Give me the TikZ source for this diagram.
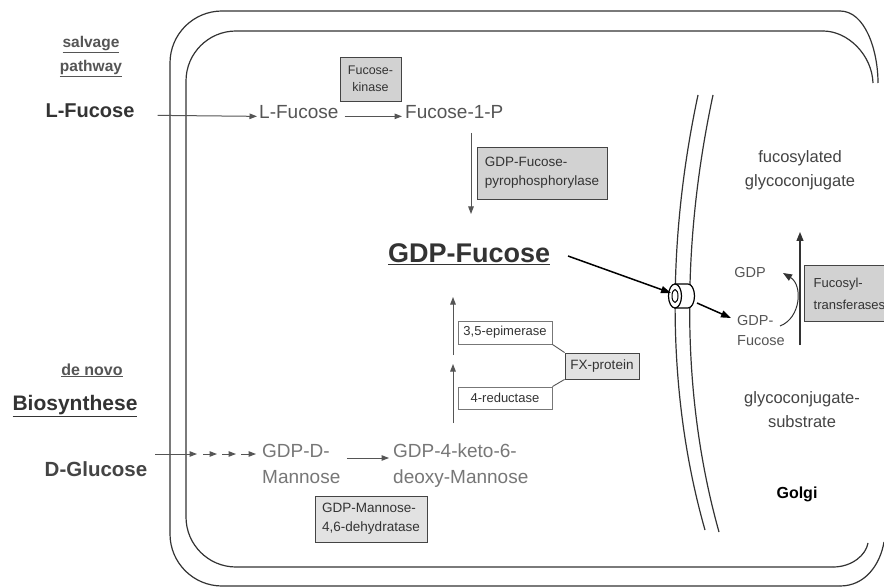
\documentclass[tikz,border=0pt]{standalone}
\usepackage{fontspec}
\setmainfont{Liberation Sans}
\usetikzlibrary{arrows.meta}
\definecolor{cA}{HTML}{333333}
\definecolor{cB}{HTML}{555555}
\definecolor{cC}{HTML}{777777}
\definecolor{cD}{HTML}{444444}
\definecolor{fillA}{HTML}{D2D2D2}
\definecolor{fillB}{HTML}{E2E2E2}
\begin{document}
\begin{tikzpicture}[x=1pt,y=-1pt,
  txt/.style={inner sep=0pt},
  headb/.style={txt,font=\fontsize{20}{24}\selectfont\bfseries,text=cA},
  heads/.style={txt,font=\fontsize{15.5}{18}\selectfont\bfseries,text=cB},
  mid/.style={txt,font=\fontsize{19}{23}\selectfont,text=cB},
  light/.style={txt,font=\fontsize{19}{23}\selectfont,text=cC},
  golgi/.style={txt,font=\fontsize{16.5}{20}\selectfont,text=cD},
  gsmall/.style={txt,font=\fontsize{14.5}{18}\selectfont,text=cB},
  enz/.style={draw=cD,line width=0.9pt,fill=fillA,inner sep=0pt,align=left,
     font=\fontsize{13.5}{19}\selectfont,text=cA},
  enzw/.style={enz,fill=white,draw=cC},
  mem/.style={draw=cA,line width=1.2pt},
  garrow/.style={draw=cB,line width=1pt,-{Triangle[length=7.5pt,width=5.5pt]}},
  barrow/.style={draw=black,line width=1.5pt,-{Triangle[length=10pt,width=7pt]}},
  tiparrow/.style={draw=cA,line width=1.1pt,-{Triangle[length=9pt,width=7pt]}}
]
\useasboundingbox (0,0) rectangle (884,588);
\clip (0,0) rectangle (884,588);
\fill[white] (0,0) rectangle (884,588);

% cell membranes
\draw[mem,rounded corners=52] (840,11) -- (170,11) -- (170,586) -- (840,586);
\draw[mem] (840,11) .. controls (865,11) and (878,50) .. (878,83);
\draw[mem] (840,586) .. controls (865,586) and (880,565) .. (884,542);
\draw[mem,rounded corners=50] (823,31) -- (186,31) -- (186,567) -- (833,567);
\draw[mem] (823,31) .. controls (848,31) and (872,55) .. (873,83);
\draw[mem] (833,567) .. controls (852,567) and (866,555) .. (868,543);

% golgi membrane
\draw[mem] (698,95) .. controls (665,250) and (668,400) .. (705,530);
\draw[mem] (713,95) .. controls (680,250) and (682,400) .. (719,532);

% left labels
\node[heads,anchor=base] (salv) at (91,48) {\underline{salvage}};
\node[heads,anchor=base] (path) at (91,72) {\underline{pathway}};
\node[headb,anchor=base] (lfo) at (90,118) {L-Fucose};
\node[heads,anchor=base,font=\fontsize{16}{19}\selectfont\bfseries] (denovo) at (92,375) {\underline{de novo}};
\node[headb,anchor=base,font=\fontsize{21}{25}\selectfont\bfseries] (bios) at (75,410) {\underline{Biosynthese}};
\node[headb,anchor=base,text=cD,font=\fontsize{20.5}{25}\selectfont\bfseries] (dglc) at (96,476) {D-Glucose};

% salvage pathway
\node[mid,anchor=base west] (lfi) at (259,119) {L-Fucose};
\node[mid,anchor=base west] (fp) at (405,119) {Fucose-1-P};
\node[enz,minimum width=61pt,minimum height=44pt,align=center,font=\fontsize{12.5}{17}\selectfont] (kin) at (370.5,79) {Fucose-\\kinase};
\node[enz,minimum width=130pt,minimum height=52pt] (pyro) at (542,173) {GDP-Fucose-\\pyrophosphorylase};
\node[txt,anchor=base west,font=\fontsize{27}{32}\selectfont\bfseries,text=cA] (gdpf) at (388,263) {\underline{GDP-Fucose}};

\draw[garrow] ([xshift=23pt]lfo.mid east) -- ([xshift=-2pt]lfi.mid west);
\draw[garrow] ([xshift=6pt]lfi.mid east) -- ([xshift=-3pt]fp.mid west);
\coordinate (v1s) at (471,133);
\coordinate (v1e) at (471,214);
\draw[garrow] (v1s) -- (v1e);

% de novo pathway
\node[light,anchor=base west] (gdm1) at (262,457) {GDP-D-};
\node[light,anchor=base west] (gdm2) at (262,483) {Mannose};
\node[light,anchor=base west] (gkd1) at (393,457) {GDP-4-keto-6-};
\node[light,anchor=base west] (gkd2) at (393,483) {deoxy-Mannose};
\node[enz,fill=fillB,minimum width=112pt,minimum height=46pt] (dehyd) at (371,519) {GDP-Mannose-\\4,6-dehydratase};

\coordinate (dg1) at (155,454);
\coordinate (dg2) at (197,454);
\coordinate (dg3) at (203,454);
\coordinate (dg4) at (217,454);
\coordinate (dg5) at (222,454);
\coordinate (dg6) at (236,454);
\coordinate (dg7) at (241,454);
\coordinate (dg8) at (256,454);
\draw[garrow] (dg1) -- (dg2);
\draw[garrow] (dg3) -- (dg4);
\draw[garrow] (dg5) -- (dg6);
\draw[garrow] (dg7) -- (dg8);
\draw[garrow] (gdm1.south east |- 0,458) ++(17pt,0) -- ([xshift=-4pt]gkd1.west |- 0,458);

\node[enzw,minimum width=94pt,minimum height=23pt,align=center,font=\fontsize{13}{16}\selectfont] (epi) at (505,332.5) {3,5-epimerase};
\node[enzw,minimum width=94pt,minimum height=22pt,align=center,font=\fontsize{13}{16}\selectfont] (red) at (505,398) {4-reductase};
\node[enz,fill=fillB,minimum width=74pt,minimum height=26pt,align=center,font=\fontsize{13.5}{16}\selectfont] (fx) at (602,366) {FX-protein};
\draw[draw=cB,line width=0.9pt] (epi.south east) -- (fx.north west);
\draw[draw=cB,line width=0.9pt] (red.north east) -- (fx.south west);

\coordinate (v2s) at (453,423);
\coordinate (v2e) at (453,364);
\coordinate (v3s) at (453,355);
\coordinate (v3e) at (453,297);
\draw[garrow] (v2s) -- (v2e);
\draw[garrow] (v3s) -- (v3e);

% channel
\draw[draw=black,line width=1.2pt,fill=white] (675,284) -- (688,284)
   arc[start angle=-90,end angle=90,x radius=6.5,y radius=12] -- (675,308) -- cycle;
\draw[draw=black,line width=1.2pt,fill=white] (675,296) ellipse [x radius=6.5,y radius=12];
\draw[draw=black,line width=1pt,fill=white] (675,296) ellipse [x radius=3,y radius=6.5];
\coordinate (gfout) at (568,256);
\coordinate (chin) at (671,293);
\coordinate (chout) at (697,303);
\coordinate (gfin) at (731,318);
\draw[barrow] (gfout) -- (chin);
\draw[barrow] (chout) -- (gfin);

% golgi side
\node[golgi,anchor=base] (fuc1) at (800,163) {fucosylated};
\node[golgi,anchor=base] (fuc2) at (800,187) {glycoconjugate};
\node[gsmall,anchor=base] (gdp) at (750,277) {GDP};
\node[gsmall,anchor=base west] (gf1) at (737,325) {GDP-};
\node[gsmall,anchor=base west] (gf2) at (737,345) {Fucose};
\node[enz,fill=fillA,anchor=north west,inner xsep=5pt,minimum width=90pt,minimum height=56pt,font=\fontsize{13}{22}\selectfont] (fts) at (804,265) {Fucosyl-\\transferases};
\node[golgi,anchor=base] (sub1) at (802,403) {glycoconjugate-};
\node[golgi,anchor=base] (sub2) at (802,427) {substrate};
\node[golgi,anchor=base,font=\fontsize{16}{20}\selectfont\bfseries,text=black] (golgi) at (797,498) {Golgi};

\coordinate (up1) at (800,345);
\coordinate (up2) at (800,232);
\draw[tiparrow] (up1) -- (up2);
\coordinate (cu1) at (780,326);
\coordinate (cu2) at (783,273);
\draw[tiparrow,line width=1pt] (cu1) .. controls (801,318) and (803,285) .. (cu2);
\end{tikzpicture}
\end{document}
